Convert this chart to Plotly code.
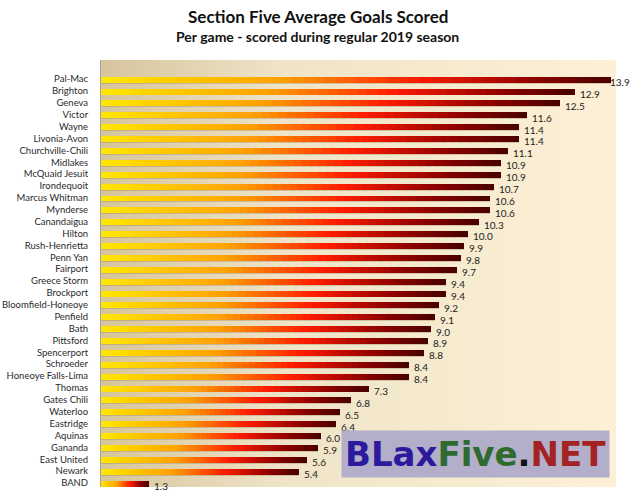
import base64
import numpy as np
import plotly.graph_objects as go
from plotly.colors import sample_colorscale

teams = ["Pal-Mac", "Brighton", "Geneva", "Victor", "Wayne", "Livonia-Avon",
         "Churchville-Chili", "Midlakes", "McQuaid Jesuit", "Irondequoit",
         "Marcus Whitman", "Mynderse", "Canandaigua", "Hilton", "Rush-Henrietta",
         "Penn Yan", "Fairport", "Greece Storm", "Brockport", "Bloomfield-Honeoye",
         "Penfield", "Bath", "Pittsford", "Spencerport", "Schroeder",
         "Honeoye Falls-Lima", "Thomas", "Gates Chili", "Waterloo", "Eastridge",
         "Aquinas", "Gananda", "East United", "Newark", "BAND"]
goals = [13.9, 12.9, 12.5, 11.6, 11.4, 11.4, 11.1, 10.9, 10.9, 10.7,
         10.6, 10.6, 10.3, 10.0, 9.9, 9.8, 9.7, 9.4, 9.4, 9.2,
         9.1, 9.0, 8.9, 8.8, 8.4, 8.4, 7.3, 6.8, 6.5, 6.4,
         6.0, 5.9, 5.6, 5.4, 1.3]

title = "Section Five Average Goals Scored"
subtitle = "Per game - scored during regular 2019 season"

bar_scale = [[0.0, "#ffe800"], [0.35, "#ffa200"], [0.62, "#ff1c00"],
             [0.85, "#8e0000"], [1.0, "#480000"]]
N_SEG = 48
FONT = "Lato, Noto Sans, sans-serif"

vals = np.array(goals)
idx = list(range(len(teams)))
fig = go.Figure()

# soft shadow under each bar
fig.add_trace(go.Bar(
    y=[i + 0.28 for i in idx], x=vals, orientation="h", width=0.32,
    marker=dict(color="rgba(150,125,80,0.35)", line=dict(width=0)),
    hoverinfo="skip", showlegend=False, offsetgroup="s",
))
for k in range(N_SEG):
    col = sample_colorscale(bar_scale, (k + 0.5) / N_SEG)[0]
    fig.add_trace(go.Bar(
        y=idx, x=vals / N_SEG, orientation="h", width=0.5,
        marker=dict(color=col, line=dict(width=0)),
        hoverinfo="skip", showlegend=False, offsetgroup="b",
    ))

vmax = max(goals)
for i, v in zip(idx, goals):
    fig.add_annotation(x=v, y=i, text=f"{v:.1f}", showarrow=False,
                       xanchor="left", yanchor="middle",
                       xshift=(-3 if v == vmax else 3), yshift=-3,
                       font=dict(family=FONT, size=10, color="#222222"))

# background gradient (horizontal) for plot area
svg = ('<svg xmlns="http://www.w3.org/2000/svg" width="200" height="100" '
       'preserveAspectRatio="none" viewBox="0 0 200 100">'
       '<defs><linearGradient id="g" x1="0" y1="0" x2="1" y2="0">'
       '<stop offset="0" stop-color="#d6c49c"/>'
       '<stop offset="0.35" stop-color="#efe4c8"/>'
       '<stop offset="1" stop-color="#fdf0d6"/>'
       '</linearGradient></defs>'
       '<rect width="200" height="100" fill="url(#g)"/></svg>')
src = "data:image/svg+xml;base64," + base64.b64encode(svg.encode()).decode()
fig.add_layout_image(dict(source=src, xref="paper", yref="paper", x=0, y=1,
                          sizex=1, sizey=1, xanchor="left", yanchor="top",
                          sizing="stretch", layer="below"))

# titles
fig.add_annotation(xref="paper", yref="paper", x=0.421, y=1.0, yshift=44,
                   xanchor="center", yanchor="middle", showarrow=False,
                   text=f"<b>{title}</b>",
                   font=dict(family=FONT, size=17, color="#111111"))
fig.add_annotation(xref="paper", yref="paper", x=0.421, y=1.0, yshift=24,
                   xanchor="center", yanchor="middle", showarrow=False,
                   text=f"<b>{subtitle}</b>",
                   font=dict(family=FONT, size=14, color="#111111"))

# logo
fig.add_annotation(
    xref="paper", yref="paper", x=0.988, y=0.021, xanchor="right", yanchor="bottom",
    text=("<span style='color:#2b1b9c'>BLax</span><span style='color:#2f6a2f'>Five</span>"
          "<span style='color:#111111'>.</span><span style='color:#a32222'>NET</span>"),
    showarrow=False, bgcolor="#b3aec9", borderpad=3,
    font=dict(family="DejaVu Sans, sans-serif", size=34, color="#2b1b9c", weight="bold"),
)

fig.update_layout(
    width=630, height=498,
    margin=dict(l=101, r=14, t=60, b=11, autoexpand=False),
    paper_bgcolor="white", plot_bgcolor="rgba(0,0,0,0)",
    barmode="stack",
    xaxis=dict(range=[0, 14.03], visible=False, fixedrange=True),
    yaxis=dict(range=[34.34, -1.6], showgrid=False, zeroline=False,
               automargin=False, tickmode="array", tickvals=idx, ticktext=teams,
               showline=True, linecolor="#a0a0a0", linewidth=1,
               ticks="", ticklen=0, ticklabelstandoff=10,
               tickfont=dict(family=FONT, size=9.5, color="#2a2a2a")),
)

fig.write_html("out.html", config={"displayModeBar": False},
               post_script="document.body.style.margin='0';"
                           "document.body.style.overflow='hidden';")
